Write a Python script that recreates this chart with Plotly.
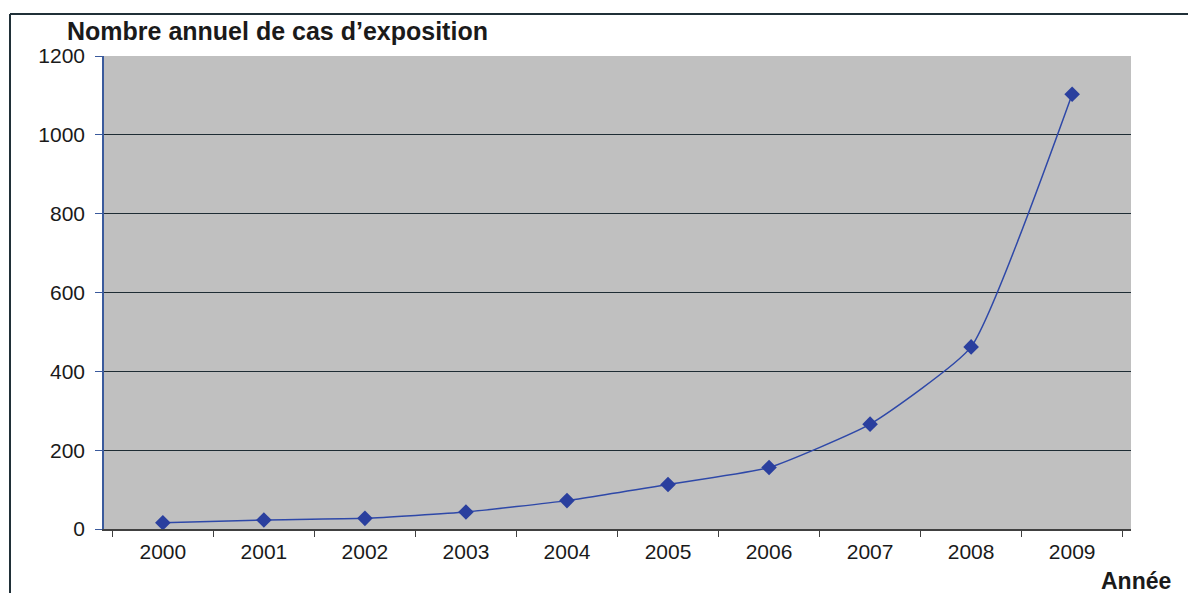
import plotly.graph_objects as go

years = ["2000", "2001", "2002", "2003", "2004", "2005", "2006", "2007", "2008", "2009"]
cases = [16, 23, 27, 43, 72, 113, 156, 266, 462, 1103]
y_ticks = [0, 200, 400, 600, 800, 1000, 1200]

OFF = 8  # page body margin
W, H = 1196 - 2 * OFF, 601 - 2 * OFF
L, R, T, B = 104 - OFF, 1131 - OFF, 56 - OFF, 529 - OFF
pw, ph = R - L, B - T

def px(x):
    return (x - OFF - L) / pw

def py(y):
    return (B - (y - OFF)) / ph

fig = go.Figure()
fig.add_trace(go.Scatter(
    x=years, y=cases, mode="lines+markers",
    line=dict(color="#2e48a8", width=1.5, shape="spline", smoothing=0.45),
    marker=dict(symbol="diamond", size=12, color="#2a3f9e"),
    showlegend=False, hoverinfo="x+y",
))

fig.update_layout(
    width=W, height=H,
    margin=dict(l=L, r=W - R, t=T, b=H - B),
    paper_bgcolor="white",
    plot_bgcolor="#c0c0c0",
    font=dict(family="Liberation Sans, Arial", size=21, color="#1a1a1a"),
    xaxis=dict(
        type="category", showgrid=False, zeroline=False,
        showline=True, linecolor="#404040", linewidth=2,
        ticks="outside", tickson="boundaries", ticklen=6, tickcolor="#404040",
        tickfont=dict(size=21), ticklabelstandoff=3,
    ),
    yaxis=dict(
        range=[0, 1200], tickvals=y_ticks, showgrid=True, gridcolor="#1e2c34", gridwidth=1,
        zeroline=False, showline=True, linecolor="#3a5a9c", linewidth=1.5,
        ticks="outside", ticklen=7, tickcolor="#3a5a9c",
        tickfont=dict(size=21), ticklabelstandoff=6,
    ),
    shapes=[
        dict(type="line", xref="paper", yref="paper", x0=px(10), x1=px(1196), y0=py(14), y1=py(14),
             line=dict(color="#203038", width=2)),
        dict(type="line", xref="paper", yref="paper", x0=px(10), x1=px(10), y0=py(14), y1=py(601),
             line=dict(color="#203038", width=2)),
    ],
    annotations=[
        dict(text="<b>Nombre annuel de cas d’exposition</b>", xref="paper", yref="paper",
             x=px(65), y=py(31), xanchor="left", yanchor="middle", showarrow=False,
             font=dict(size=25, color="#1a1a1a")),
        dict(text="<b>Année</b>", xref="paper", yref="paper",
             x=px(1099), y=py(581), xanchor="left", yanchor="middle", showarrow=False,
             font=dict(size=23, color="#1a1a1a")),
    ],
)

fig.write_html("out.html")
